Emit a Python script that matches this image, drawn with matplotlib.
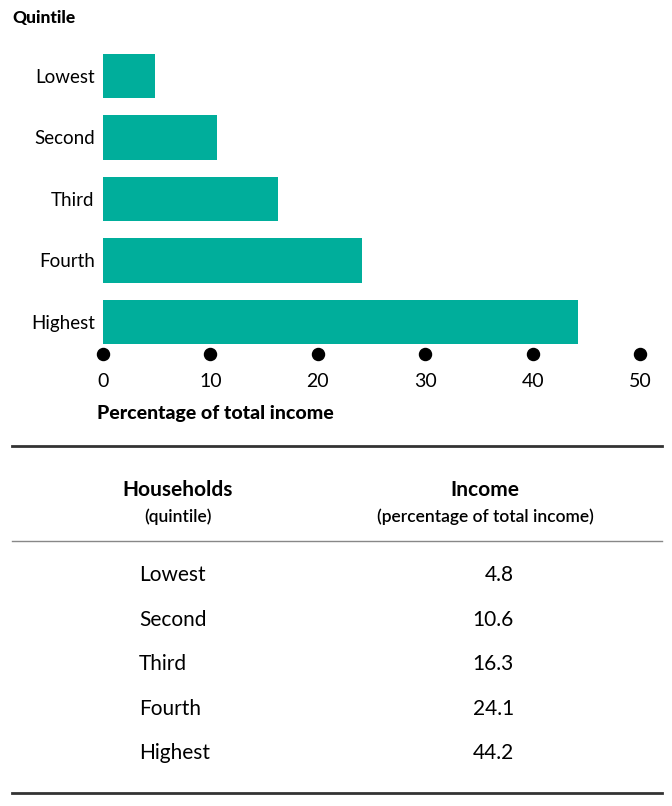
import matplotlib
matplotlib.use("Agg")
import matplotlib.pyplot as plt
from matplotlib.lines import Line2D

plt.rcParams["font.family"] = ["Lato", "DejaVu Sans"]

quintiles = ["Lowest", "Second", "Third", "Fourth", "Highest"]
income_share = [4.8, 10.6, 16.3, 24.1, 44.2]
x_ticks = [0, 10, 20, 30, 40, 50]

BAR_COLOR = "#00ae9b"
W, H = 672, 806


def fx(px):
    return px / W


def fy(py):
    return 1 - py / H


fig = plt.figure(figsize=(6.72, 8.06), dpi=100)

# --- bar chart ---
ax_top, ax_bot = 45, 354
ax = fig.add_axes([fx(103), fy(ax_bot), fx(640) - fx(103), (ax_bot - ax_top) / H])
ypos = list(range(len(quintiles)))
ax.barh(ypos, income_share, height=0.72, color=BAR_COLOR)
ylo = (ax_bot - 76) / 61.5
ax.set_ylim(ylo, -0.504)
ax.set_xlim(0, 50)
for s in ax.spines.values():
    s.set_visible(False)
ax.set_yticks(ypos)
ax.set_yticklabels(quintiles, fontsize=13.5)
ax.set_xticks(x_ticks)
ax.set_xticklabels([str(t) for t in x_ticks], fontsize=14)
ax.tick_params(length=0, axis="y", pad=6)
ax.tick_params(length=0, axis="x", pad=14)
ax.scatter(x_ticks, [ylo] * len(x_ticks), s=75, color="black", clip_on=False, zorder=3)

fig.text(fx(12), fy(18), "Quintile", fontsize=12.5, fontweight="black", va="center")
fig.text(fx(97), fy(413), "Percentage of total income", fontsize=14,
         fontweight="black", va="center")

# --- table ---
fig.add_artist(Line2D([fx(12), fx(662)], [fy(446), fy(446)], color="#333333", lw=2))
fig.add_artist(Line2D([fx(12), fx(662)], [fy(541), fy(541)], color="#888888", lw=1))
fig.add_artist(Line2D([fx(12), fx(662)], [fy(793), fy(793)], color="#333333", lw=2))

fig.text(fx(178), fy(490), "Households", fontsize=15, fontweight="bold",
         ha="center", va="center")
fig.text(fx(178), fy(517), "(quintile)", fontsize=12.5, fontweight="semibold",
         ha="center", va="center")
fig.text(fx(485), fy(490), "Income", fontsize=15, fontweight="bold",
         ha="center", va="center")
fig.text(fx(485), fy(517), "(percentage of total income)", fontsize=12.5,
         fontweight="semibold", ha="center", va="center")

row_y = [575, 620, 664, 709, 753]
for name, val, ry in zip(quintiles, income_share, row_y):
    fig.text(fx(139), fy(ry), name, fontsize=15, va="center")
    fig.text(fx(514), fy(ry), f"{val:.1f}", fontsize=15, ha="right", va="center")

fig.savefig("out.png", dpi=100)
